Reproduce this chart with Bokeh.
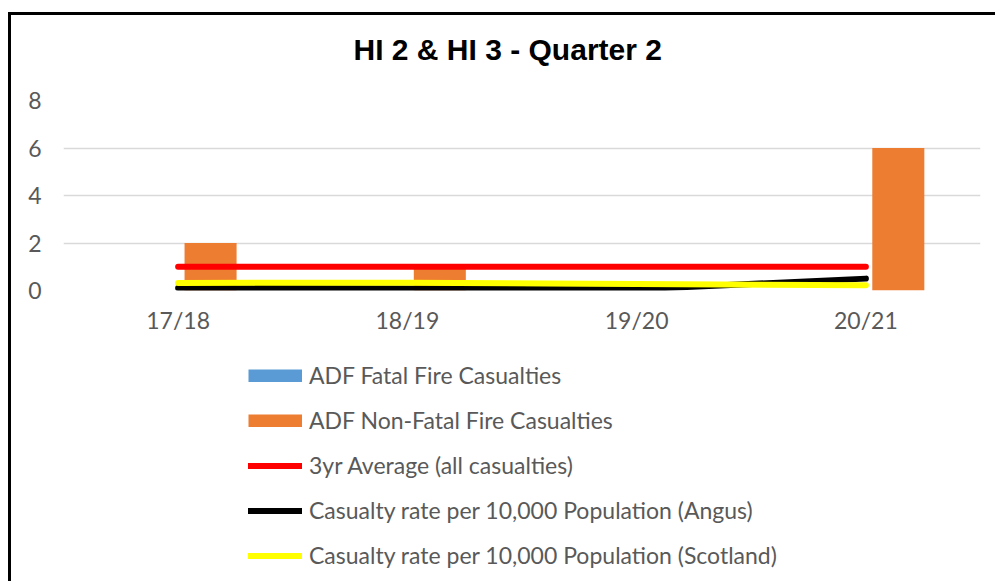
from bokeh.plotting import figure
from bokeh.models import Legend, LegendItem, FixedTicker, Range1d, Title
from bokeh.layouts import column
from bokeh.embed import file_html
from bokeh.resources import INLINE

# ---- data ----
categories = ["17/18", "18/19", "19/20", "20/21"]
fatal = [0, 0, 0, 0]
non_fatal = [2, 1, 0, 6]
avg_3yr = [1, 1, 1, 1]
rate_angus = [0.11, 0.08, 0.05, 0.5]
rate_scotland = [0.32, 0.33, 0.27, 0.22]
y_ticks = [0, 2, 4, 6, 8]
series_names = ["ADF Fatal Fire Casualties", "ADF Non-Fatal Fire Casualties",
                "3yr Average (all casualties)",
                "Casualty rate per 10,000 Population (Angus)",
                "Casualty rate per 10,000 Population (Scotland)"]
title_text = "HI 2 & HI 3 - Quarter 2"

idx = list(range(len(categories)))
bar_w = 0.227
x_fatal = [i - 0.0855 for i in idx]
x_non_fatal = [i + 0.1415 for i in idx]

FONT = "Lato"
GREY = "#595959"
C_FATAL, C_NONFATAL, C_AVG, C_ANG, C_SCO = "#5B9BD5", "#ED7D31", "#FF0000", "#000000", "#FFFF00"

W = 984
H_MAIN = 330
H_LEG = 236

p = figure(width=W, height=H_MAIN,
           x_range=Range1d(-0.5, 3.5), y_range=Range1d(0, 8),
           output_backend="svg", toolbar_location=None,
           min_border_left=52, min_border_right=15,
           min_border_top=85, min_border_bottom=55)
p.outline_line_color = None
p.background_fill_color = "white"
p.border_fill_color = "white"

# real title
p.title.text = title_text
p.title.align = "left"
p.title.offset = 290
p.title.standoff = 10
p.title.text_font = "Liberation Sans"
p.title.text_font_size = "30px"
p.title.text_font_style = "bold"
p.title.text_color = "black"
# blank spacer between the title and the plot area
p.add_layout(Title(text=" ", text_font_size="10px", standoff=17), "above")

# axes
p.xaxis.ticker = FixedTicker(ticks=idx)
p.xaxis.major_label_overrides = {i: c for i, c in zip(idx, categories)}
p.yaxis.ticker = FixedTicker(ticks=y_ticks)
for ax in (p.xaxis, p.yaxis):
    ax.axis_line_color = None
    ax.major_tick_line_color = None
    ax.minor_tick_line_color = None
    ax.major_tick_out = 0
    ax.major_tick_in = 0
    ax.major_label_text_font = FONT
    ax.major_label_text_font_size = "23px"
    ax.major_label_text_color = GREY
p.xaxis.major_label_standoff = 15
p.yaxis.major_label_standoff = 22

p.xgrid.visible = False
p.ygrid.grid_line_color = "#D9D9D9"
p.ygrid.grid_line_width = 1.5

# bars
p.vbar(x=x_fatal, top=fatal, width=bar_w, fill_color=C_FATAL, line_color=None)
p.vbar(x=x_non_fatal, top=non_fatal, width=bar_w, fill_color=C_NONFATAL, line_color=None)

# lines
lw = 6
p.line(idx, avg_3yr, line_color=C_AVG, line_width=lw, line_cap="round", line_join="round")
p.line(idx, rate_angus, line_color=C_ANG, line_width=lw, line_cap="round", line_join="round")
p.line(idx, rate_scotland, line_color=C_SCO, line_width=lw, line_cap="round", line_join="round")

# ---- legend panel (separate canvas below the chart) ----
q = figure(width=W, height=H_LEG, x_range=Range1d(0, 1), y_range=Range1d(0, 1),
           output_backend="svg", toolbar_location=None,
           min_border_left=0, min_border_right=0, min_border_top=0, min_border_bottom=0)
q.axis.visible = False
q.grid.visible = False
q.outline_line_color = None
q.background_fill_color = "white"
q.border_fill_color = "white"

nan = float("nan")
keys = [
    q.line(x=[nan], y=[nan], line_color=C_FATAL, line_width=13, line_cap="butt"),
    q.line(x=[nan], y=[nan], line_color=C_NONFATAL, line_width=13, line_cap="butt"),
    q.line(x=[nan], y=[nan], line_color=C_AVG, line_width=lw, line_cap="round"),
    q.line(x=[nan], y=[nan], line_color=C_ANG, line_width=lw, line_cap="round"),
    q.line(x=[nan], y=[nan], line_color=C_SCO, line_width=lw, line_cap="round"),
]
legend = Legend(items=[LegendItem(label=n, renderers=[r]) for n, r in zip(series_names, keys)],
                location=(185, 12), orientation="vertical")
legend.padding = 0
legend.margin = 0
legend.border_line_color = None
legend.background_fill_alpha = 0
legend.glyph_width = 54
legend.glyph_height = 13
legend.label_standoff = 7
legend.label_height = 28
legend.spacing = 17
legend.label_text_font = FONT
legend.label_text_font_size = "23px"
legend.label_text_color = GREY
q.add_layout(legend)

layout = column(p, q, spacing=0)
layout.styles = {"border-top": "3px solid black", "border-left": "3px solid black",
                 "margin-top": "12px", "margin-left": "8px"}

open("out.html", "w").write(file_html(layout, INLINE))
